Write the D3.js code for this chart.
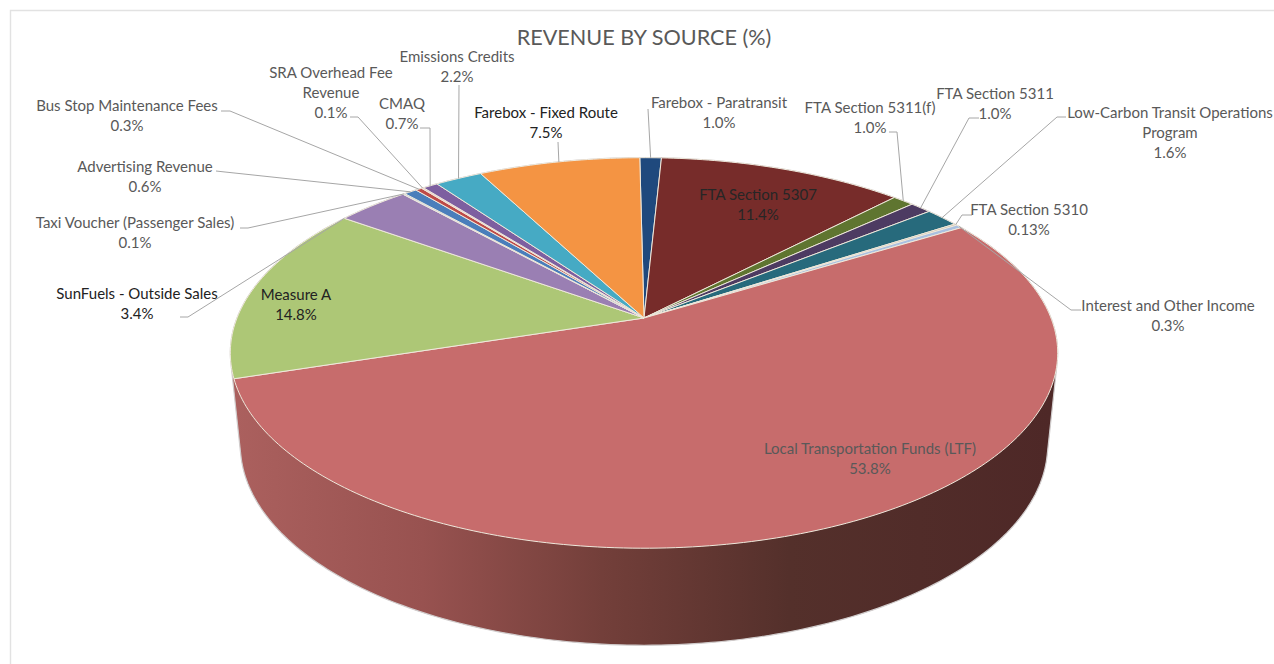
<!DOCTYPE html>
<html><head><meta charset="utf-8">
<script src="https://cdn.jsdelivr.net/npm/d3@7"></script>
<style>html,body{margin:0;padding:0;background:#fff}svg{display:block}text{font-family:Lato,"Open Sans",sans-serif}</style>
</head><body><svg id="c" width="1274" height="664"></svg>
<script>
const categories=["Farebox - Paratransit","FTA Section 5307","FTA Section 5311(f)","FTA Section 5311","Low-Carbon Transit Operations Program","FTA Section 5310","Interest and Other Income","Local Transportation Funds (LTF)","Measure A","SunFuels - Outside Sales","Taxi Voucher (Passenger Sales)","Advertising Revenue","Bus Stop Maintenance Fees","SRA Overhead Fee Revenue","CMAQ","Emissions Credits","Farebox - Fixed Route"];
const values=[1.0,11.4,1.0,1.0,1.6,0.13,0.3,53.8,14.8,3.4,0.1,0.6,0.3,0.1,0.7,2.2,7.5];
const valueLabels=["1.0%","11.4%","1.0%","1.0%","1.6%","0.13%","0.3%","53.8%","14.8%","3.4%","0.1%","0.6%","0.3%","0.1%","0.7%","2.2%","7.5%"];
const sliceColors=["#1f497d","#772c2a","#5f7530","#4d3b62","#276a7c","#c9bda6","#a9c0e0","#c76c6c","#adc776","#9a7fb3","#c5d5ea","#4a7ebb","#be4b48","#f0c8c8","#7d5fa0","#46aac4","#f49443"];
const labelLines={"Low-Carbon Transit Operations Program":["Low-Carbon Transit Operations","Program"],"SRA Overhead Fee Revenue":["SRA Overhead Fee","Revenue"]};
// label layout: centre x, first-line mid y, text colour, leader elbow points, leader end fraction along the slice
const labelLayout=[
 [719,103,"#595959",[[648,109]],0.5],
 [758,195,"#262626",null],
 [870,108,"#595959",[[889,132],[897,132]],0.5],
 [995,94,"#595959",[[979,118],[969,118]],0.5],
 [1170,113,"#595959",[[1066,117],[1057,117]],0.5],
 [1029,210,"#595959",[[972,215],[962,215]],0.5],
 [1168,306,"#595959",[[1081,310],[1071,310]],0.5],
 [870,449,"#595959",null],
 [296,295,"#222",null],
 [137,294,"#222",[[180,317],[188,317]],0],
 [135,223,"#595959",[[240,228],[248,228]],0.5],
 [145,167,"#595959",[[216,171],[225,172]],0.5],
 [127,106,"#595959",[[221,111],[230,111]],0.5],
 [331,73,"#595959",[[350,117],[358,117]],0.5],
 [402,104,"#595959",[[420,128],[430,128]],0.5],
 [457,57,"#595959",[[459,85]],0.5],
 [546,113,"#222",[[558,142]],0.5]
];
const svg=d3.select("#c");
const deg=Math.PI/180;
const cx=644,topApex=318,a=407,b=189,k=0.179;
const botA=a*404/414,botB=b*200/195,botApex=445-botB*k/(1-k*k);
const project=(t,ax,bx,ap)=>{const x=Math.sin(t),y=-Math.cos(t),d=1-k*y;return [cx+ax*x/d,ap+bx*y/d];};
const topFace=t=>project(t,a,b,topApex), botFace=t=>project(t,botA,botB,botApex);
const color=d3.scaleOrdinal(categories,sliceColors);
const pie=d3.pie().sort(null).startAngle(-0.7*deg).endAngle(359.3*deg);
const arcs=pie(values);
const line=d3.line();
// frame
svg.append("path").attr("d","M10.5,664V10.5H1274").attr("fill","none").attr("stroke","#e2e2e2").attr("stroke-width",1.4);
// gradient wall
const grad=svg.append("defs").append("linearGradient").attr("id","wall").attr("gradientUnits","userSpaceOnUse").attr("x1",235).attr("x2",1050).attr("y1",0).attr("y2",0);
[[0,"#ab605e"],[0.23,"#985250"],[0.45,"#733f3a"],[0.68,"#54302b"],[1,"#4e2827"]].forEach(s=>grad.append("stop").attr("offset",s[0]).attr("stop-color",s[1]));
const ring=d3.range(0,360,1).map(v=>v*deg);
const hull=d3.polygonHull(ring.map(topFace).concat(ring.map(botFace)));
svg.append("path").attr("d",line(hull)+"Z").attr("fill","url(#wall)").attr("stroke","#d0cccc").attr("stroke-width",1.2);
// top faces
svg.append("g").selectAll("path").data(arcs).join("path")
 .attr("d",d=>{const n=Math.max(2,Math.ceil((d.endAngle-d.startAngle)/deg));
   const s=d3.scaleLinear().domain([0,n]).range([d.startAngle,d.endAngle]);
   return line([[cx,topApex]].concat(d3.range(n+1).map(i=>topFace(s(i)))))+"Z";})
 .attr("fill",(d,i)=>color(categories[i]))
 .attr("stroke","#efe9dc").attr("stroke-width",1).attr("stroke-linejoin","round");
// leaders
const g=svg.append("g");
arcs.forEach((d,i)=>{const L=labelLayout[i];if(!L[3])return;
 const end=topFace(d.startAngle+(d.endAngle-d.startAngle)*L[4]);
 g.append("path").attr("d",line(L[3].concat([end]))).attr("fill","none").attr("stroke","#a6a6a6").attr("stroke-width",1);
});
// labels
arcs.forEach((d,i)=>{const L=labelLayout[i],name=categories[i];
 const lines=(labelLines[name]||[name]).concat([valueLabels[i]]);
 const t=svg.append("text").attr("text-anchor","middle").attr("font-size",15).attr("fill",L[2]);
 lines.forEach((s,j)=>t.append("tspan").attr("x",L[0]).attr("y",L[1]+j*19.7).attr("dy","0.35em").text(s));
});
svg.append("text").attr("x",644).attr("y",37).attr("dy","0.35em").attr("text-anchor","middle").attr("font-size",21.6).attr("fill","#595959").text("REVENUE BY SOURCE (%)");
</script></body></html>
